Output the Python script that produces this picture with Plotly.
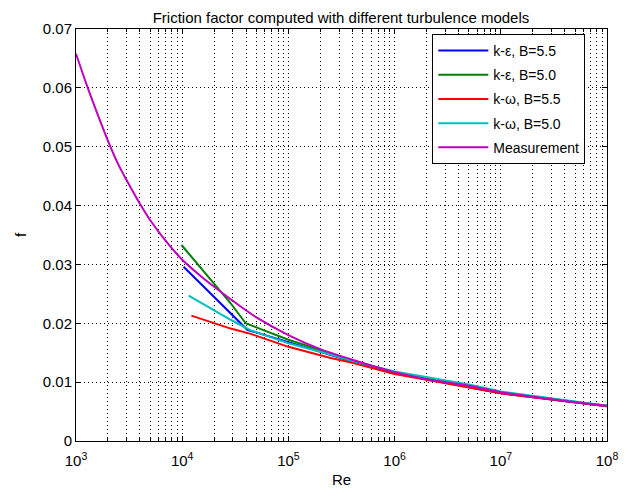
import plotly.graph_objects as go

# Measurement curve
re_meas = [1e3, 1.25e3, 1.5e3, 2e3, 2.5e3, 3e3, 4e3, 5e3, 7e3, 1e4, 1.5e4, 2e4, 3e4, 5e4, 1e5, 2e5, 4e5, 1e6, 2e6, 5e6, 1e7, 2e7, 5e7, 1e8]
f_meas = [0.0658, 0.0607, 0.0568, 0.0510, 0.0470, 0.0443, 0.0403, 0.0375, 0.0340, 0.0308, 0.0280, 0.0262, 0.0238, 0.0210, 0.0180, 0.0156, 0.0138, 0.0117, 0.0105, 0.0094, 0.0083, 0.0075, 0.0066, 0.0060]

# k-epsilon, B=5.5
re_ke55 = [1.03e4, 2.86e4, 4.1e4, 1e5, 4e5, 1e6, 1e7, 1e8]
f_ke55 = [0.0296, 0.0218, 0.0189, 0.0168, 0.0135, 0.0115, 0.0081, 0.0059]

# k-epsilon, B=5.0
re_ke50 = [9.85e3, 2.86e4, 3.96e4, 1e5, 4e5, 1e6, 1e7, 1e8]
f_ke50 = [0.0333, 0.0234, 0.0200, 0.0172, 0.0137, 0.0116, 0.0082, 0.0060]

# k-omega, B=5.5
re_kw55 = [1.22e4, 2.86e4, 4.42e4, 1e5, 2.5e5, 4e5, 1e6, 1e7, 1e8]
f_kw55 = [0.0213, 0.0191, 0.0182, 0.0160, 0.0141, 0.0133, 0.0114, 0.0081, 0.0059]

# k-omega, B=5.0
re_kw50 = [1.15e4, 2.86e4, 4.42e4, 1e5, 2.5e5, 4e5, 1e6, 5e6, 1e7, 1e8]
f_kw50 = [0.0247, 0.0206, 0.0188, 0.0166, 0.0147, 0.0136, 0.0118, 0.0096, 0.0084, 0.0060]

names = ["k-\u03b5, B=5.5", "k-\u03b5, B=5.0", "k-\u03c9, B=5.5", "k-\u03c9, B=5.0", "Measurement"]
colors = ["#0000ff", "#008000", "#ff0000", "#00bfbf", "#bf00bf"]
series = [(re_ke55, f_ke55), (re_ke50, f_ke50), (re_kw55, f_kw55), (re_kw50, f_kw50), (re_meas, f_meas)]
shapes_ = ["linear", "linear", "linear", "linear", "spline"]

x_tickvals = [1e3, 1e4, 1e5, 1e6, 1e7, 1e8]
x_ticktext = ["10<sup>3</sup>", "10<sup>4</sup>", "10<sup>5</sup>", "10<sup>6</sup>", "10<sup>7</sup>", "10<sup>8</sup>"]
y_tickvals = [0, 0.01, 0.02, 0.03, 0.04, 0.05, 0.06, 0.07]
y_ticktext = ["0", "0.01", "0.02", "0.03", "0.04", "0.05", "0.06", "0.07"]

minor_vals = [m * 10 ** d for d in range(3, 8) for m in range(2, 10)]

fig = go.Figure()
for i, ((xs, ys), n, c, s) in enumerate(zip(series, names, colors, shapes_)):
    fig.add_trace(go.Scatter(x=xs, y=ys, mode="lines", name=n, legendgroup=f"g{i}",
                             line=dict(color=c, width=2, shape=s, smoothing=0.8)))

font = "Liberation Sans, Arial, sans-serif"
grid_dash = "1px,3px"
# page body has an 8px default margin; figure is sized to fit the window
fig.update_layout(
    width=623, height=490,
    margin=dict(l=67, r=24, t=21, b=52),
    paper_bgcolor="white", plot_bgcolor="white",
    font=dict(family=font, size=15, color="black"),
    title=dict(text="Friction factor computed with different turbulence models",
               x=(67 + 266) / 623, xanchor="center", y=1 - 10 / 490, yanchor="middle",
               font=dict(size=15, color="black")),
    legend=dict(x=0.671, y=0.988, xanchor="left", yanchor="top",
                bordercolor="black", borderwidth=1, bgcolor="white",
                font=dict(size=14), tracegroupgap=3, itemwidth=50),
    showlegend=True,
)
fig.update_xaxes(
    type="log", range=[3, 8], tickvals=x_tickvals, ticktext=x_ticktext,
    showline=True, linecolor="black", linewidth=1, mirror="allticks",
    ticks="inside", ticklen=5, tickcolor="black", ticklabelstandoff=6,
    showgrid=True, gridcolor="black", griddash=grid_dash, gridwidth=1,
    minor=dict(tickvals=minor_vals, ticks="inside", ticklen=3, tickcolor="black",
               showgrid=True, gridcolor="black", griddash=grid_dash, gridwidth=1),
    title=dict(text="Re", standoff=6, font=dict(size=15)),
    zeroline=False,
)
fig.update_yaxes(
    range=[0, 0.07], tickvals=y_tickvals, ticktext=y_ticktext,
    showline=True, linecolor="black", linewidth=1, mirror="allticks",
    ticks="inside", ticklen=5, tickcolor="black",
    showgrid=True, gridcolor="black", griddash=grid_dash, gridwidth=1,
    title=dict(text="f", standoff=12, font=dict(size=15)),
    zeroline=False,
)

fig.write_html("out.html")
